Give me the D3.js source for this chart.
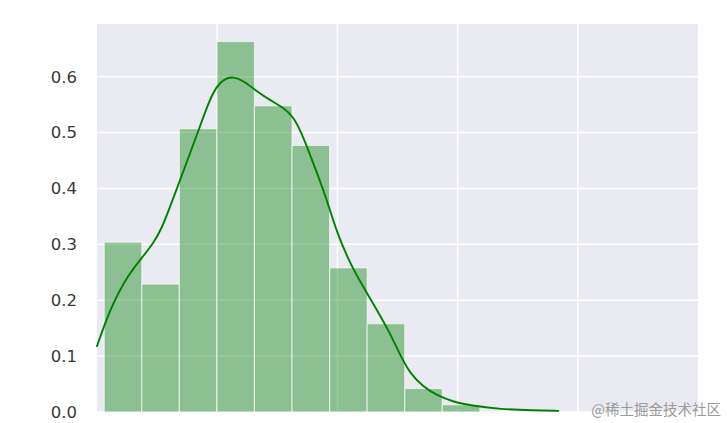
<!DOCTYPE html>
<html><head><meta charset="utf-8">
<script src="https://cdn.jsdelivr.net/npm/d3@7"></script>
<style>body{margin:0;background:#fff;}svg{display:block;}</style>
</head><body>
<svg id="chart" width="727" height="423"></svg>
<script>
// Data
const binStart = 0.06;
const binWidth = 0.3125;
const binDensity = [0.304, 0.229, 0.507, 0.663, 0.548, 0.477, 0.258, 0.158, 0.042, 0.013];
const kdeX = [0.000,0.067,0.136,0.219,0.302,0.385,0.468,0.538,0.607,0.691,0.774,0.857,0.926,0.996,1.065,1.134,1.217,1.329,1.439,1.550,1.633,1.689,1.745,1.828,1.911,1.994,2.105,2.215,2.327,2.438,2.521,2.604,2.715,2.826,2.964,3.131,3.353,3.630,3.838];
const kdeY = [0.118,0.159,0.195,0.230,0.257,0.279,0.302,0.328,0.367,0.415,0.463,0.511,0.553,0.584,0.597,0.600,0.593,0.574,0.558,0.545,0.528,0.505,0.476,0.429,0.381,0.322,0.266,0.224,0.183,0.141,0.102,0.069,0.045,0.030,0.018,0.011,0.005,0.003,0.002];
const yTicks = [0.0, 0.1, 0.2, 0.3, 0.4, 0.5, 0.6];
const xTicks = [0, 1, 2, 3, 4, 5];

const svg = d3.select("#chart");
const m = {left: 97, right: 30, top: 24, bottom: 11};
const W = 727, H = 423;
const x = d3.scaleLinear().domain([0, 5]).range([m.left, W - m.right + 1]);
const y = d3.scaleLinear().domain([0, 0.6944]).range([H - m.bottom, m.top]);

svg.append("rect").attr("x", x(0)).attr("y", y.range()[1])
  .attr("width", x(5) - x(0)).attr("height", y.range()[0] - y.range()[1])
  .attr("fill", "#EAEAF2");

// grid
svg.append("g").selectAll("line").data(yTicks).join("line")
  .attr("x1", x(0)).attr("x2", x(5)).attr("y1", d => y(d)).attr("y2", d => y(d))
  .attr("stroke", "#fff").attr("stroke-width", 1.5);
svg.append("g").selectAll("line").data(xTicks.slice(1, -1)).join("line")
  .attr("y1", y.range()[0]).attr("y2", y.range()[1]).attr("x1", d => x(d)).attr("x2", d => x(d))
  .attr("stroke", "#fff").attr("stroke-width", 1.5);

// y axis labels
const yAxis = d3.axisLeft(y).tickValues(yTicks).tickFormat(d3.format(".1f")).tickSize(0).tickPadding(20);
const ga = svg.append("g").attr("transform", `translate(${x(0)},0)`).call(yAxis);
ga.select(".domain").remove();
ga.selectAll("text").attr("font-family", "DejaVu Sans, sans-serif").attr("font-size", 16.5).attr("fill", "#3a3a3a");

// histogram bars
const bins = binDensity.map((v, i) => ({x0: binStart + i * binWidth, x1: binStart + (i + 1) * binWidth, v}));
svg.append("g").selectAll("rect").data(bins).join("rect")
  .attr("x", d => x(d.x0)).attr("width", d => x(d.x1) - x(d.x0))
  .attr("y", d => y(d.v)).attr("height", d => y(0) - y(d.v))
  .attr("fill", "rgb(0,128,0)").attr("fill-opacity", 0.4)
  .attr("stroke", "#fff").attr("stroke-opacity", 0.6).attr("stroke-width", 1.2);

// KDE line
const pts = kdeX.map((d, i) => [d, kdeY[i]]);
svg.append("path").datum(pts)
  .attr("d", d3.line().x(d => x(d[0])).y(d => y(d[1])).curve(d3.curveBasis))
  .attr("fill", "none").attr("stroke", "#008000").attr("stroke-width", 1.9)
  .attr("stroke-linejoin", "round").attr("stroke-linecap", "round");

// watermark
svg.append("text").attr("x", 721).attr("y", 415).attr("text-anchor", "end")
  .attr("font-family", "Noto Sans CJK SC, sans-serif").attr("font-size", 14.5)
  .attr("fill", "#9a9a9a").text("@稀土掘金技术社区");
</script>
</body></html>
